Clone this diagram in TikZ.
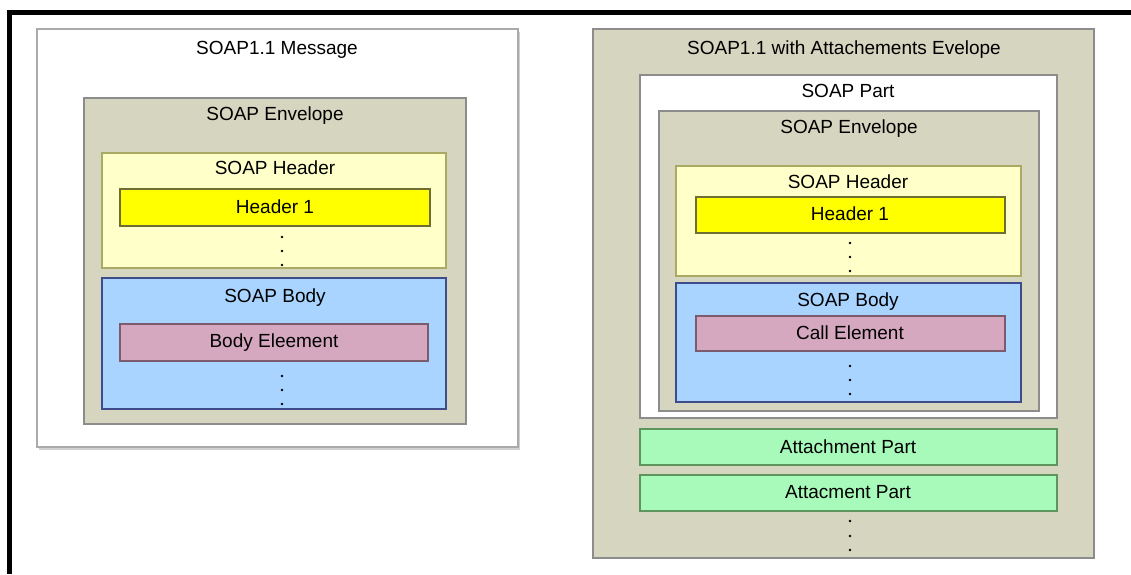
\documentclass[tikz,border=0pt]{standalone}
\usepackage{fontspec}
\setmainfont{Liberation Sans}
\definecolor{envfill}{RGB}{214,213,192}
\definecolor{envline}{RGB}{140,140,140}
\definecolor{hdrfill}{RGB}{255,255,202}
\definecolor{hdrline}{RGB}{170,170,100}
\definecolor{h1fill}{RGB}{255,255,0}
\definecolor{h1line}{RGB}{110,110,50}
\definecolor{bodyfill}{RGB}{168,212,255}
\definecolor{bodyline}{RGB}{62,76,140}
\definecolor{elemfill}{RGB}{214,168,192}
\definecolor{elemline}{RGB}{124,92,108}
\definecolor{attfill}{RGB}{168,250,186}
\definecolor{attline}{RGB}{92,150,92}
\definecolor{msgline}{RGB}{170,170,170}
\tikzset{
  blk/.style={rectangle, draw, line width=1.5pt, inner sep=0pt, outer sep=0pt, anchor=north west},
  lbl/.style={font=\fontsize{19}{22}\selectfont, inner sep=0pt, anchor=base},
  dotmark/.style={fill=black},
}
\begin{document}
\begin{tikzpicture}[x=1pt,y=-1pt]
\useasboundingbox (0,0) rectangle (1131,574);
\fill[white] (0,0) rectangle (1131,574);

% outer frame lines
\draw[line width=4.5pt] (9.5,574) -- (9.5,12.5) -- (1131,12.5);

% ---------- SOAP 1.1 message ----------
\fill[black!18] (39,32) rectangle (520,450);
\node[blk, draw=msgline, fill=white, minimum width=481pt, minimum height=418pt] (msg) at (37,29) {};
\node[lbl] (msgT) at (277,54) {SOAP1.1 Message};

\node[blk, draw=envline, fill=envfill, minimum width=382pt, minimum height=326pt] (envL) at (84,98) {};
\node[lbl] (envLT) at (275,120) {SOAP Envelope};

\node[blk, draw=hdrline, fill=hdrfill, minimum width=344pt, minimum height=115pt] (hdrL) at (102,153) {};
\node[lbl] (hdrLT) at (275,174) {SOAP Header};
\node[blk, draw=h1line, fill=h1fill, minimum width=310pt, minimum height=37pt] (h1L) at (120,189) {};
\node[lbl] (h1LT) at (275,213) {Header 1};
\foreach \y in {237,251,265} \fill[dotmark] (282,\y) circle (1.3pt);

\node[blk, draw=bodyline, fill=bodyfill, minimum width=344pt, minimum height=131pt] (bodyL) at (102,278) {};
\node[lbl] (bodyLT) at (275,302) {SOAP Body};
\node[blk, draw=elemline, fill=elemfill, minimum width=308pt, minimum height=37pt] (elemL) at (120,324) {};
\node[lbl] (elemLT) at (274,347) {Body Eleement};
\foreach \y in {376,390,404} \fill[dotmark] (282,\y) circle (1.3pt);

% ---------- SOAP 1.1 with attachments ----------
\node[blk, draw=envline, fill=envfill, minimum width=501pt, minimum height=529pt] (swa) at (593,29) {};
\node[lbl] (swaT) at (844,54) {SOAP1.1 with Attachements Evelope};

\node[blk, draw=envline, fill=white, minimum width=417pt, minimum height=343pt] (part) at (640,75) {};
\node[lbl] (partT) at (848,97) {SOAP Part};

\node[blk, draw=envline, fill=envfill, minimum width=380pt, minimum height=300pt] (envR) at (659,111) {};
\node[lbl] (envRT) at (849,133) {SOAP Envelope};

\node[blk, draw=hdrline, fill=hdrfill, minimum width=345pt, minimum height=110pt] (hdrR) at (676,166) {};
\node[lbl] (hdrRT) at (848,188) {SOAP Header};
\node[blk, draw=h1line, fill=h1fill, minimum width=309pt, minimum height=36pt] (h1R) at (696,197) {};
\node[lbl] (h1RT) at (850,220) {Header 1};
\foreach \y in {243,257,271} \fill[dotmark] (850,\y) circle (1.3pt);

\node[blk, draw=bodyline, fill=bodyfill, minimum width=345pt, minimum height=119pt] (bodyR) at (676,283) {};
\node[lbl] (bodyRT) at (848,306) {SOAP Body};
\node[blk, draw=elemline, fill=elemfill, minimum width=309pt, minimum height=35pt] (callR) at (696,316) {};
\node[lbl] (callRT) at (850,339) {Call Element};
\foreach \y in {366,380,394} \fill[dotmark] (850,\y) circle (1.3pt);

\node[blk, draw=attline, fill=attfill, minimum width=417pt, minimum height=36pt] (att1) at (640,429) {};
\node[lbl] (att1T) at (848,453) {Attachment Part};
\node[blk, draw=attline, fill=attfill, minimum width=417pt, minimum height=36pt] (att2) at (640,475) {};
\node[lbl] (att2T) at (848,498) {Attacment Part};
\foreach \y in {521,536,550} \fill[dotmark] (850,\y) circle (1.3pt);
\end{tikzpicture}
\end{document}
